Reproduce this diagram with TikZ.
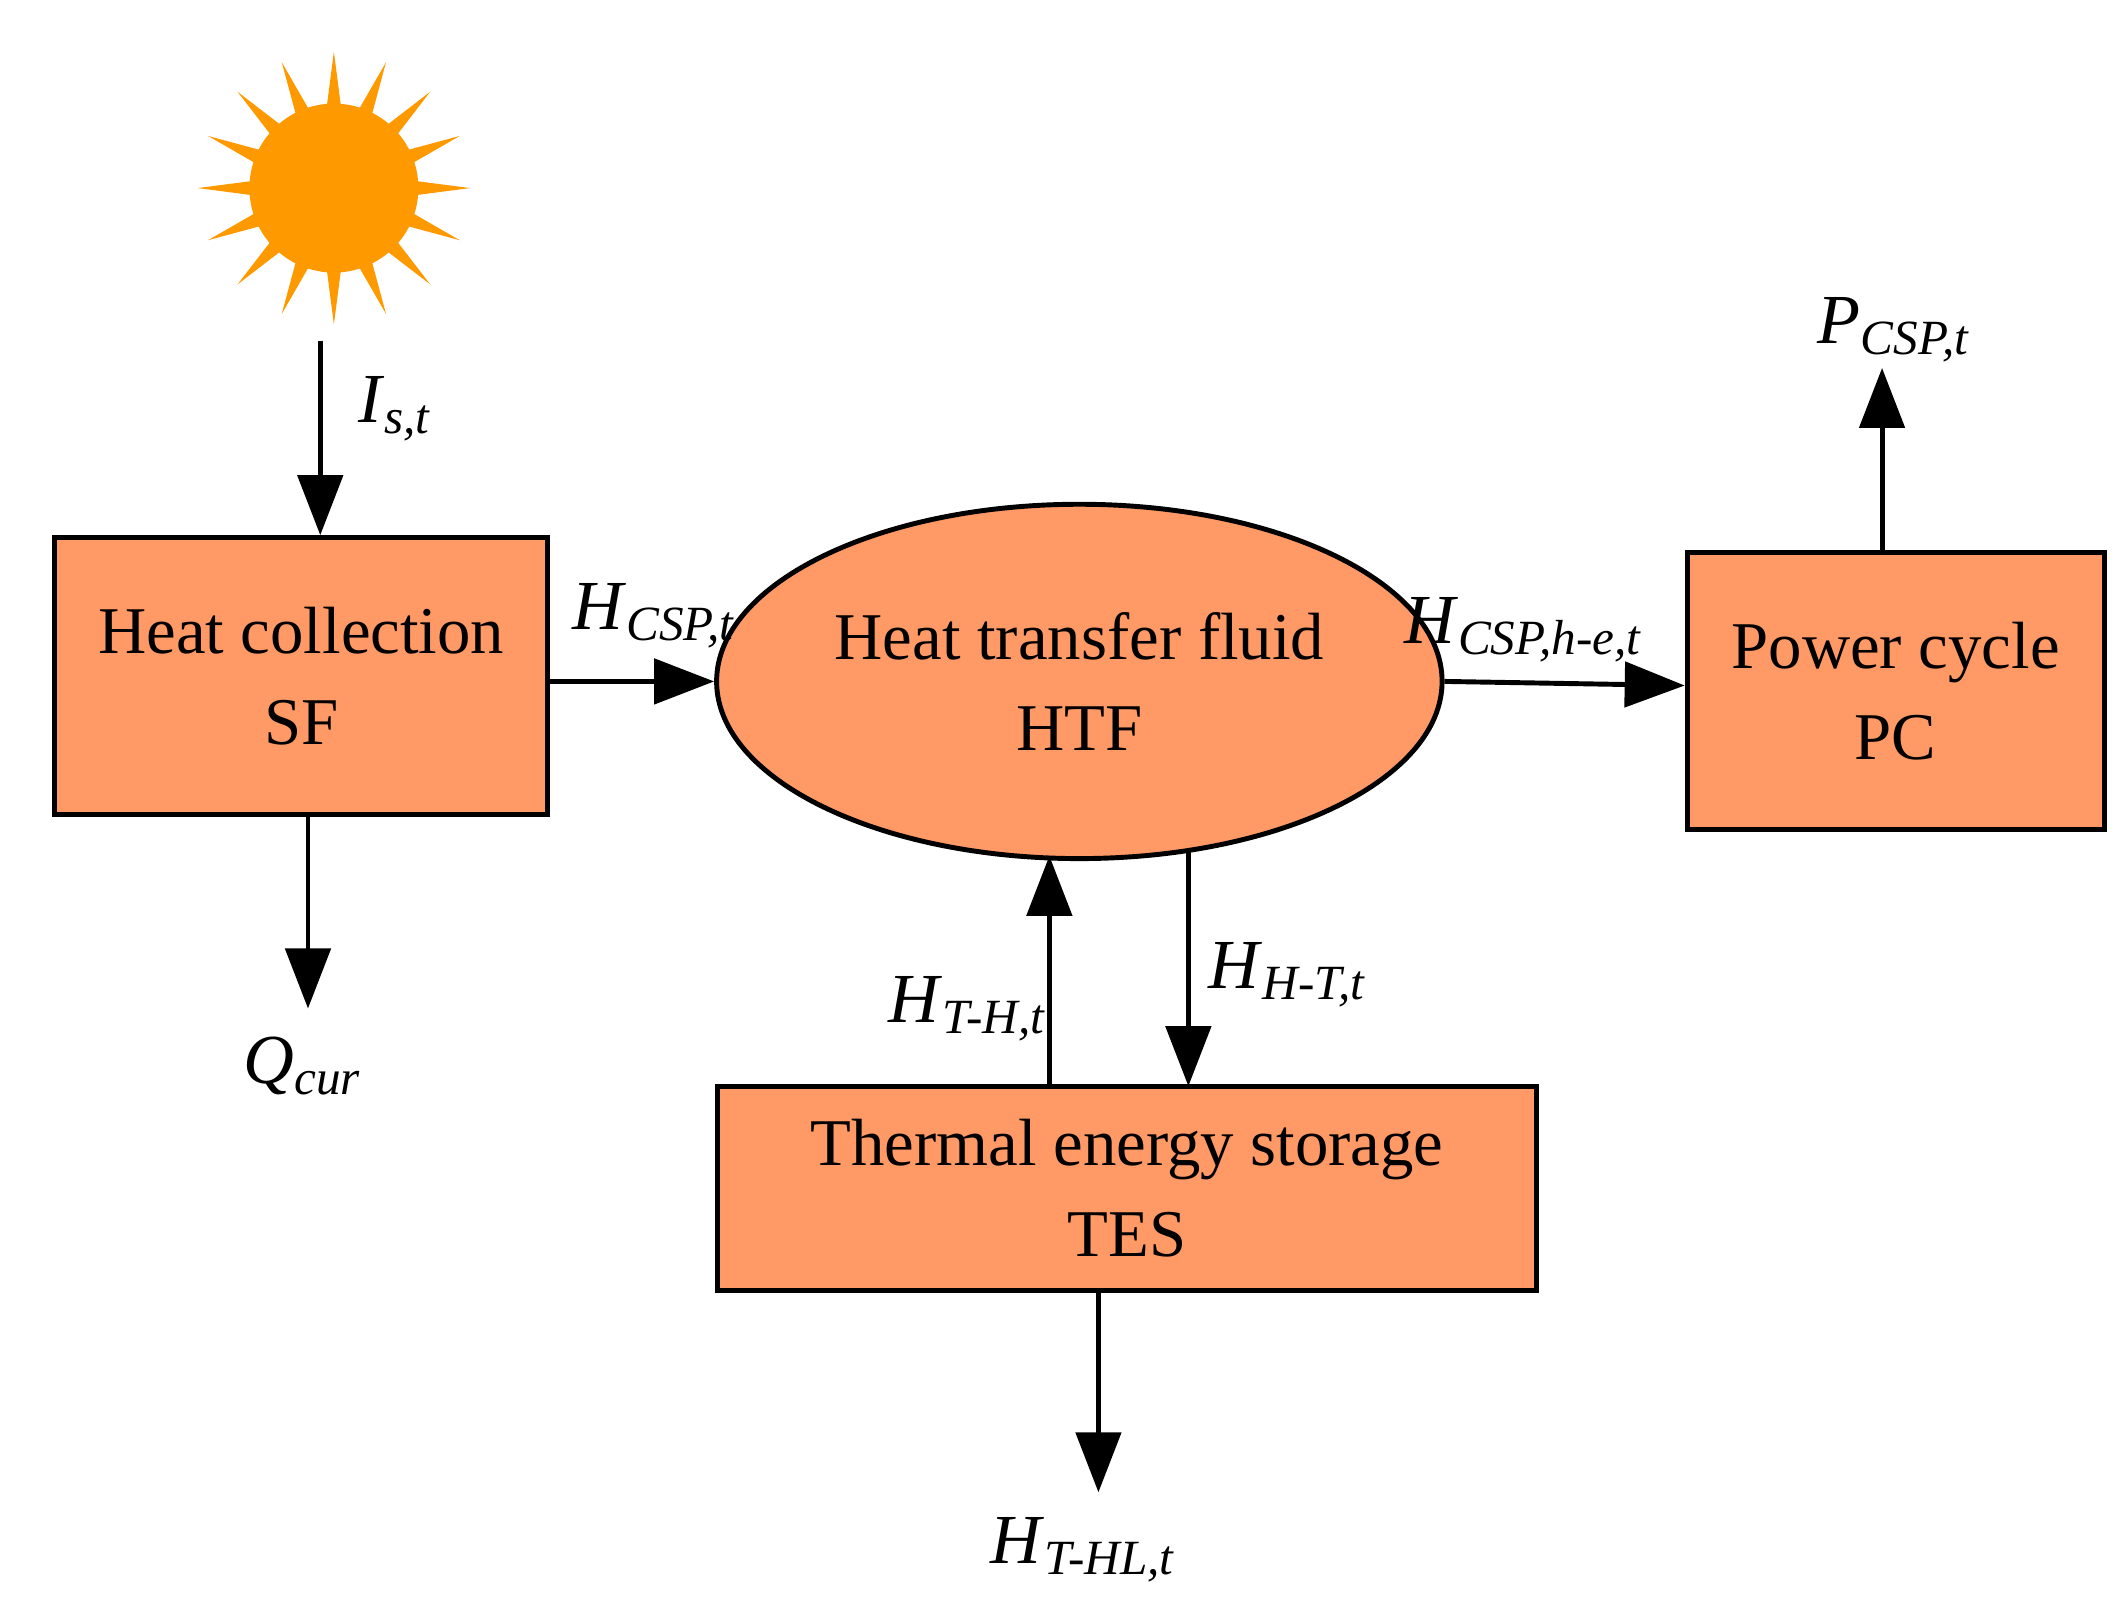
\documentclass[tikz,border=0pt]{standalone}
\usepackage{fontspec}
\setmainfont{Liberation Serif}
\usetikzlibrary{arrows.meta, shapes.geometric, calc}
\definecolor{boxorange}{RGB}{255,153,102}
\definecolor{sunorange}{RGB}{255,153,0}
\newcommand{\flow}[2]{\textit{#1}\textsubscript{\textit{#2}}}
\begin{document}
\begin{tikzpicture}[x=0.01363cm, y=-0.01363cm]
    \tikzset{
        block/.style={draw, line width=1.4pt, fill=boxorange, align=center, font=\fontsize{19}{26}\selectfont},
        flowline/.style={line width=1.4pt, -{Triangle[length=0.6cm, width=0.45cm]}},
        lbl/.style={font=\fontsize{20}{24}\selectfont, inner sep=1pt}
    }
    \useasboundingbox (0,0) rectangle (1560,1176);

    % sun
    \foreach \a in {0,22.5,...,337.5}
        \fill[sunorange] ($(245,138)+(\a-5:60)$) -- ($(245,138)+(\a+5:60)$) -- ($(245,138)+(\a:100)$) -- cycle;
    \coordinate (sun) at (235,250);
    \fill[sunorange] (245,138) circle[radius=62];

    % blocks
    \node[block, minimum width=362*0.01363cm, minimum height=203*0.01363cm] (sf) at (221,496) {Heat collection\\SF};
    \node[block, ellipse, minimum width=472*0.01363cm, minimum height=260*0.01363cm] (htf) at (792,500) {Heat transfer fluid\\HTF};
    \node[block, minimum width=306*0.01363cm, minimum height=203*0.01363cm] (pc) at (1391,507) {Power cycle\\PC};
    \node[block, minimum width=601*0.01363cm, minimum height=150*0.01363cm] (tes) at (827,872) {Thermal energy storage\\TES};

    % free ends
    \coordinate (qcur) at (226,740);
    \coordinate (pout) at (1381,270);
    \coordinate (loss) at (806,1095);

    % flows
    \draw[flowline] (sun) -- (sun |- sf.north);
    \draw[flowline] (qcur |- sf.south) -- (qcur);
    \draw[flowline] (sf.east |- 0,500) -- (htf.west);
    \draw[flowline] (htf.east) -- (pc.west |- 0,503);
    \draw[flowline] (pout |- pc.north) -- (pout);
    \draw[flowline] (770,797) -- (770,628);
    \draw[flowline] (872,625) -- (872,797);
    \draw[flowline] (loss |- tes.south) -- (loss);

    % labels
    \node[lbl] (l1) at (290,300) {\flow{I}{s,t}};
    \node[lbl] (l2) at (222,782) {\flow{Q}{cur}};
    \node[lbl] (l3) at (480,452) {\flow{H}{CSP,t}};
    \node[lbl] (l4) at (1118,462) {\flow{H}{CSP,h-e,t}};
    \node[lbl] (l5) at (1390,242) {\flow{P}{CSP,t}};
    \node[lbl] (l6) at (710,740) {\flow{H}{T-H,t}};
    \node[lbl] (l7) at (945,715) {\flow{H}{H-T,t}};
    \node[lbl] (l8) at (795,1137) {\flow{H}{T-HL,t}};
\end{tikzpicture}
\end{document}
